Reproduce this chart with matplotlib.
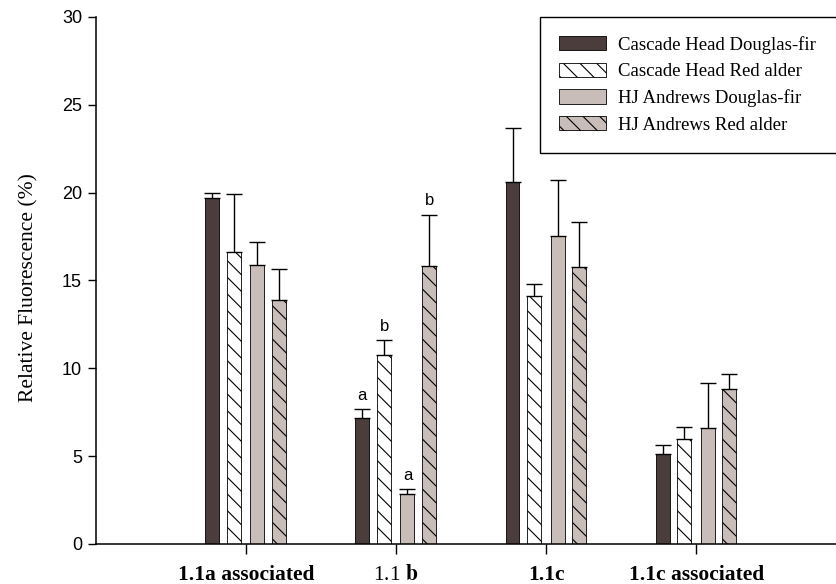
import numpy as np
import matplotlib
matplotlib.use("Agg")
import matplotlib.pyplot as plt

# data
groups = ["1.1a associated", "1.1 b", "1.1c", "1.1c associated"]
series = ["Cascade Head Douglas-fir", "Cascade Head Red alder",
          "HJ Andrews Douglas-fir", "HJ Andrews Red alder"]
ch_df = [19.7, 7.2, 20.6, 5.1]
ch_ra = [16.6, 10.75, 14.1, 6.0]
hj_df = [15.9, 2.85, 17.55, 6.6]
hj_ra = [13.9, 15.8, 15.75, 8.8]
ch_df_err = [0.3, 0.5, 3.05, 0.55]
ch_ra_err = [3.3, 0.85, 0.7, 0.65]
hj_df_err = [1.3, 0.3, 3.15, 2.55]
hj_ra_err = [1.75, 2.95, 2.6, 0.85]
letters_b = ["a", "b", "a", "b"]  # significance letters for group "1.1 b"

plt.rcParams['hatch.linewidth'] = 0.8
plt.rcParams['mathtext.fontset'] = 'stix'

dark = "#4a3d3b"
light = "#c9bdb9"
vals = [ch_df, ch_ra, hj_df, hj_ra]
errs = [ch_df_err, ch_ra_err, hj_df_err, hj_ra_err]
faces = [dark, "white", light, light]
hatches = [None, "\\\\", None, "\\\\"]
offsets = [-0.225, -0.08, 0.075, 0.22]
width = 0.093

fig = plt.figure(figsize=(8.36, 5.84), dpi=100)
ax = fig.add_axes([0.1148, 0.0685, 0.8852, 0.9025])

x = np.arange(1, len(groups) + 1)
for i in range(4):
    xs = x + offsets[i]
    ax.bar(xs, vals[i], width, color=faces[i], edgecolor="black", linewidth=0.6,
           hatch=hatches[i], label=series[i], zorder=2)
    ax.errorbar(xs, vals[i], yerr=[np.zeros(4), errs[i]], fmt="none",
                ecolor="black", elinewidth=1.0, capsize=6, capthick=1.0, zorder=3)
    # letters on the second group
    ax.text(xs[1], vals[i][1] + errs[i][1] + 0.35, letters_b[i], ha="center",
            va="bottom", fontsize=12, family="Liberation Sans")

ax.set_xlim(0, 4.93)
ax.set_ylim(0, 30)
ax.set_yticks(range(0, 31, 5))
ax.set_xticks(x)
ax.set_xticklabels(["1.1a associated", r"1.1 $\mathbf{b}$", "1.1c", "1.1c associated"],
                   family="Liberation Serif", fontsize=15.5)
for lab in ax.get_xticklabels():
    if lab.get_text() != r"1.1 $\mathbf{b}$":
        lab.set_fontweight("bold")
for lab in ax.get_yticklabels():
    lab.set_family("Liberation Sans")
    lab.set_fontsize(13)

ax.tick_params(axis="x", direction="out", length=7, width=1.0, pad=8)
ax.tick_params(axis="y", direction="out", length=6, width=1.0, pad=4)
ax.spines["top"].set_visible(False)
ax.spines["right"].set_visible(False)
ax.spines["left"].set_linewidth(1.1)
ax.spines["bottom"].set_linewidth(1.1)

ax.set_ylabel("Relative Fluorescence (%)", family="Liberation Serif", fontsize=15.5)
ax.yaxis.set_label_coords(-0.078, 0.486)

leg = ax.legend(loc="upper left", bbox_to_anchor=(0.6, 0.0, 0.45, 1.0), mode="expand",
                prop={"family": "Liberation Serif", "size": 13.5}, fancybox=False,
                edgecolor="black", framealpha=1, handlelength=2.5, handleheight=0.8,
                labelspacing=0.48, borderpad=1.0, handletextpad=0.65, borderaxespad=0)
leg.get_frame().set_linewidth(1.0)

fig.savefig("out.png", dpi=100)
